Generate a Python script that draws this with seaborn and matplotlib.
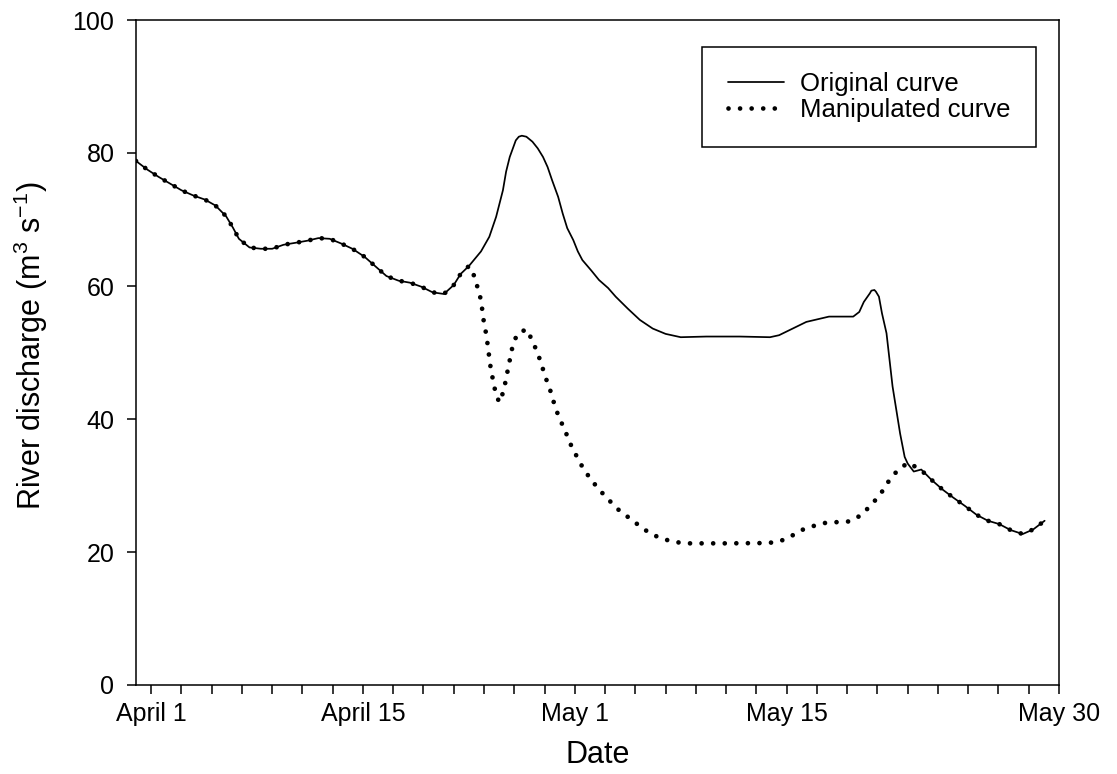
import matplotlib
matplotlib.use("Agg")
import matplotlib.pyplot as plt
from matplotlib.ticker import FixedLocator, FixedFormatter
import seaborn as sns

# Day index along the x axis (0 = April 1) and discharge in m3/s
orig_day = [-1.0, -0.25, 0.5, 1.25, 2.0, 2.8, 3.55, 4.25, 4.95, 5.4, 5.8, 6.5,
            7.25, 8.0, 8.75, 9.55, 10.3, 11.05, 11.8, 12.55, 13.3, 14.1, 14.8,
            15.55, 16.35, 17.1, 17.85, 18.6, 19.35, 20.0, 20.45, 21.0, 21.8,
            22.35, 22.8, 23.25, 23.46, 23.7, 24.1, 24.3, 24.5, 24.8, 25.2, 25.55,
            25.9, 26.2, 26.5, 26.9, 27.2, 27.5, 27.9, 28.2, 28.5, 29.1, 29.6,
            30.2, 30.7, 31.5, 32.3, 33.15, 34.0, 35.0, 36.7, 38.9, 40.9,
            41.5, 42.4, 43.3, 44.8, 46.4, 46.8, 47.1, 47.5, 47.6, 47.8, 47.9,
            48.1, 48.3, 48.6, 49.0, 49.5, 49.8, 50.0, 50.4, 50.9, 51.55, 52.3,
            53.0, 53.8, 54.55, 55.3, 56.05, 56.8, 57.6, 58.3, 59.05]
orig_flow = [78.8, 77.5, 76.4, 75.4, 74.4, 73.6, 73.0, 72.1, 70.5, 68.8, 67.1, 65.8,
             65.6, 65.6, 66.2, 66.5, 66.8, 67.2, 67.1, 66.4, 65.6, 64.4, 63.0,
             61.5, 60.8, 60.5, 59.9, 59.05, 58.8, 60.15, 61.8, 63.0, 65.2,
             67.4, 70.4, 74.4, 77.2, 79.4, 81.9, 82.45, 82.6, 82.45, 81.7, 80.7,
             79.4, 77.9, 75.9, 73.4, 70.9, 68.7, 66.9, 65.2, 63.9, 62.3, 60.9,
             59.7, 58.4, 56.6, 54.9, 53.6, 52.8, 52.3, 52.4, 52.4, 52.3,
             52.6, 53.6, 54.6, 55.4, 55.4, 56.1, 57.6, 58.9, 59.3, 59.4, 59.15,
             58.4, 55.9, 52.9, 44.9, 37.8, 34.3, 33.3, 32.1, 32.4, 30.9, 29.4,
             28.2, 26.9, 25.6, 24.7, 24.2, 23.3, 22.7, 23.4, 24.7]

# Manipulated series: identical before day 21 and after day 51
manip_day = [-1.0, -0.25, 0.5, 1.25, 2.0, 2.8, 3.55, 4.25, 4.95, 5.4, 5.8, 6.5,
             7.25, 8.0, 8.75, 9.55, 10.3, 11.05, 11.8, 12.55, 13.3, 14.1, 14.8,
             15.55, 16.35, 17.1, 17.85, 18.6, 19.35, 20.0, 20.45, 21.0,
             21.4, 21.6, 21.8, 21.9, 22.0, 22.15, 22.25, 22.35, 22.45, 22.6,
             22.75, 23.0, 23.3, 23.45, 23.6, 23.75, 23.9, 24.2, 24.8, 25.2, 25.5,
             25.8, 26.0, 26.3, 26.75, 27.07, 27.4, 27.7, 28.1, 28.5, 29.0, 29.6,
             30.3, 31.0, 31.8, 32.5, 33.3, 34.0, 34.8, 35.5, 38.0, 40.8, 41.6,
             42.35, 43.1, 43.9, 44.6, 45.4, 46.15, 46.9, 47.6, 48.2, 48.7, 49.3,
             50.0, 50.8, 51.55, 52.3, 53.0, 53.8, 54.55, 55.3, 56.05, 56.8, 57.6,
             58.3, 59.05]
manip_flow = [78.8, 77.5, 76.4, 75.4, 74.4, 73.6, 73.0, 72.1, 70.5, 68.8, 67.1, 65.8,
              65.6, 65.6, 66.2, 66.5, 66.8, 67.2, 67.1, 66.4, 65.6, 64.4, 63.0,
              61.5, 60.8, 60.5, 59.9, 59.05, 58.8, 60.15, 61.8, 63.0,
              61.3, 59.5, 57.9, 56.1, 54.4, 52.7, 51.0, 49.2, 47.5, 45.8,
              44.1, 42.5, 44.2, 46.0, 47.7, 49.4, 51.1, 52.8, 53.5, 51.8, 50.1,
              48.3, 46.6, 44.9, 41.45, 39.7, 38.0, 36.3, 34.5, 32.8, 31.1, 29.4,
              27.7, 26.1, 24.8, 23.5, 22.45, 21.85, 21.45, 21.3, 21.3, 21.35, 21.65,
              22.45, 23.4, 24.0, 24.4, 24.5, 24.6, 25.5, 27.1, 28.7, 30.5, 32.2,
              33.4, 32.5, 30.9, 29.4, 28.2, 26.9, 25.6, 24.7, 24.2, 23.3, 22.7,
              23.4, 24.7]

major_ticks = [0, 14, 28, 42, 60]
major_labels = ["April 1", "April 15", "May 1", "May 15", "May 30"]
minor_ticks = [d for d in range(0, 61, 2) if d not in major_ticks]
y_ticks = [0, 20, 40, 60, 80, 100]

sns.set_style("ticks")
plt.rcParams["font.family"] = ["Liberation Sans", "DejaVu Sans"]
plt.rcParams["mathtext.fontset"] = "custom"
plt.rcParams["mathtext.rm"] = "Liberation Sans"
plt.rcParams["mathtext.it"] = "Liberation Sans:italic"
plt.rcParams["mathtext.bf"] = "Liberation Sans:bold"
for key in ["text.color", "axes.labelcolor", "xtick.color", "ytick.color",
            "axes.edgecolor"]:
    plt.rcParams[key] = "black"

DOTS = (0, (0.001, 2.45))

fig = plt.figure(figsize=(11.17, 7.74), dpi=100)
ax = fig.add_axes([136 / 1117, 1 - 685 / 774, (1059 - 136) / 1117, (685 - 20) / 774])

sns.lineplot(x=orig_day, y=orig_flow, ax=ax, color="black", linewidth=1.25,
             sort=False, estimator=None, label="Original curve")
sns.lineplot(x=manip_day, y=manip_flow, ax=ax, color="black", linewidth=3.4,
             sort=False, estimator=None, label="Manipulated curve",
             linestyle=DOTS, dash_capstyle="round")
ax.lines[1].set_linestyle(DOTS)
ax.lines[1].set_dash_capstyle("round")

ax.set_xlim(-1, 60)
ax.set_ylim(0, 100)
ax.xaxis.set_major_locator(FixedLocator(major_ticks))
ax.xaxis.set_major_formatter(FixedFormatter(major_labels))
ax.xaxis.set_minor_locator(FixedLocator(minor_ticks))
ax.yaxis.set_major_locator(FixedLocator(y_ticks))

for side in ["top", "right", "bottom", "left"]:
    ax.spines[side].set_visible(True)
    ax.spines[side].set_color("black")
    ax.spines[side].set_linewidth(1.1)

ax.tick_params(axis="x", which="both", direction="out", length=6.5, width=1.1,
               color="black", labelcolor="black", labelsize=18, pad=6, top=False)
ax.tick_params(axis="y", which="major", direction="out", length=6.5, width=1.1,
               color="black", labelcolor="black", labelsize=18, pad=9, right=False)

ax.set_xlabel("Date", fontsize=22, labelpad=10, color="black")
ax.set_ylabel(r"River discharge (m$^{3}$ s$^{-1}$)", fontsize=22, labelpad=16,
              color="black")
ax.yaxis.label.set_y(0.51)

leg = ax.legend(loc="upper right", bbox_to_anchor=(0.975, 0.96), fontsize=18.5,
                frameon=True, fancybox=False, shadow=False, borderaxespad=0,
                handlelength=2.2, handletextpad=0.6, labelspacing=0.05,
                borderpad=1.0)
leg.get_frame().set_edgecolor("black")
leg.get_frame().set_linewidth(1.1)
leg.get_frame().set_facecolor("white")
leg.get_frame().set_alpha(1)
leg.legend_handles[1].set_linestyle(DOTS)
leg.legend_handles[1].set_dash_capstyle("round")
for txt in leg.get_texts():
    txt.set_color("black")

fig.savefig("out.png", dpi=100)
